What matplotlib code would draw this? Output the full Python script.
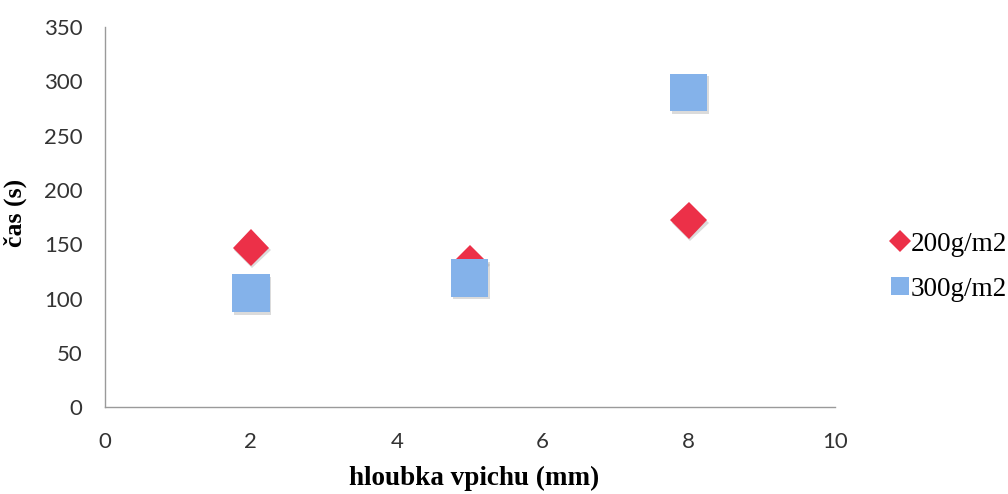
import matplotlib
matplotlib.use("Agg")
import matplotlib.pyplot as plt
import matplotlib.patheffects as pe
from matplotlib.lines import Line2D

depth = [2, 5, 8]
series_200 = [147, 133, 172]
series_300 = [105, 119, 290]
labels = ["200g/m2", "300g/m2"]
xticks = [0, 2, 4, 6, 8, 10]
yticks = [0, 50, 100, 150, 200, 250, 300, 350]

fig = plt.figure(figsize=(10.08, 4.94), dpi=100)
ax = fig.add_axes([0.104, 0.176, 0.724, 0.769])

shadow = [pe.SimplePatchShadow(offset=(1.2, -2), shadow_rgbFace='#888888', alpha=0.3), pe.Normal()]
ax.plot(depth, series_200, linestyle='none', marker='D', markersize=18.5,
        color='#EC3048', markeredgewidth=0, path_effects=shadow, label=labels[0], zorder=3)
ax.plot(depth, series_300, linestyle='none', marker='s', markersize=27,
        color='#84B2EA', markeredgewidth=0, path_effects=shadow, label=labels[1], zorder=4)

ax.set_xlim(0, 10)
ax.set_ylim(0, 350)
ax.set_xticks(xticks)
ax.set_yticks(yticks)
for s in ['top', 'right']:
    ax.spines[s].set_visible(False)
for s in ['left', 'bottom']:
    ax.spines[s].set_color('#9a9a9a')
    ax.spines[s].set_linewidth(1.0)
ax.tick_params(length=0, labelsize=16, colors='#333333')
for t in ax.get_xticklabels() + ax.get_yticklabels():
    t.set_family('Lato')
ax.tick_params(axis='x', pad=18)
ax.tick_params(axis='y', pad=16)

fig.text(474 / 1008, 1 - 478 / 494, 'hloubka vpichu (mm)', family='Liberation Serif',
         fontweight='bold', fontsize=19.5, ha='center', va='center')
fig.text(15 / 1008, 1 - 213 / 494, 'čas (s)', family='Liberation Serif',
         fontweight='bold', fontsize=18.5, ha='center', va='center', rotation=90)

handles = [Line2D([], [], linestyle='none', marker='D', markersize=11, color='#EC3048', markeredgewidth=0),
           Line2D([], [], linestyle='none', marker='s', markersize=13, color='#84B2EA', markeredgewidth=0)]
fig.legend(handles, labels, loc='center left', bbox_to_anchor=(0.883, 0.46), frameon=False,
           prop={'family': 'Liberation Serif', 'size': 19.5}, handlelength=0.7, handletextpad=0.05,
           labelspacing=0.75, borderaxespad=0, borderpad=0)

fig.savefig('out.png', dpi=100)
